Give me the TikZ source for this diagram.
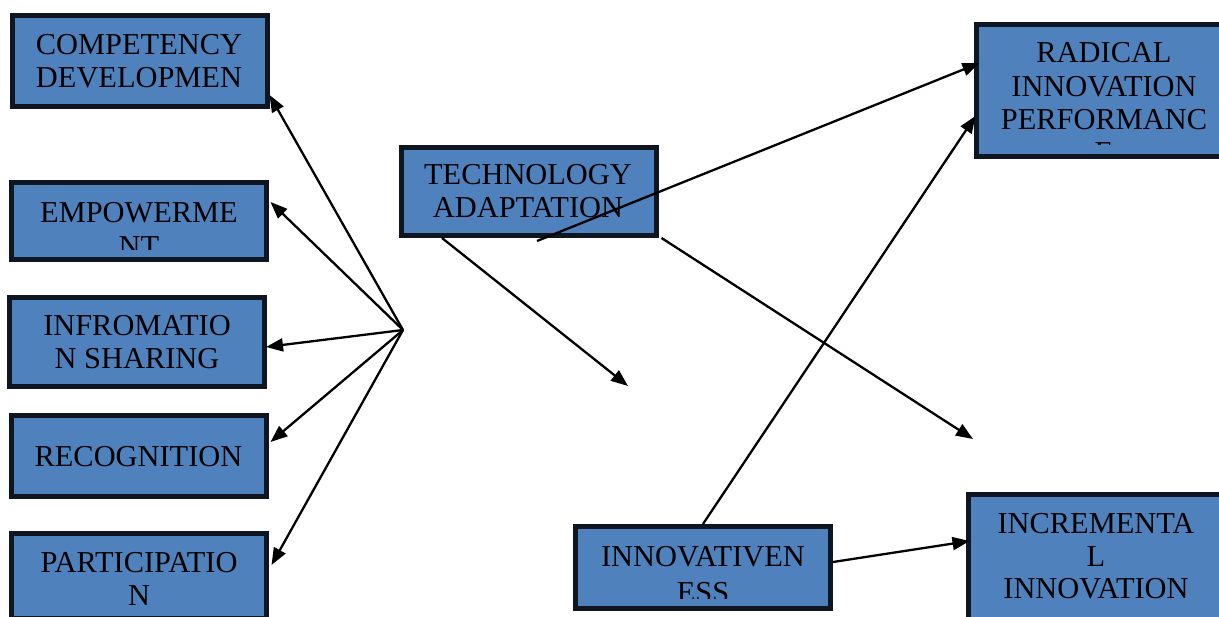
\documentclass[tikz,border=0pt]{standalone}
\usepackage{fontspec}
\setmainfont{Liberation Serif}
\usetikzlibrary{arrows.meta}

\definecolor{boxblue}{RGB}{79,129,189}
\definecolor{boxedge}{RGB}{14,22,34}

\begin{document}
\begin{tikzpicture}[x=1pt,y=-1pt,
  box/.style={draw=boxedge, line width=5pt, fill=boxblue, inner sep=0pt,
              minimum width=255pt},
  label/.style={anchor=base, inner sep=0pt, text=black,
                font=\fontsize{30.4}{33}\selectfont},
  link/.style={draw=black, line width=2.3pt,
               -{Triangle[length=17pt,width=13pt]}}
]
\useasboundingbox (0,0) rectangle (1219,617);
\clip (0,0) rectangle (1219,617);

% left column of factors
\node[box, minimum height=91pt] (comp)   at (139.5,61)  {};
\node[box, minimum height=77pt] (empow)  at (139,221)   {};
\node[box, minimum height=89pt] (info)   at (137,342)   {};
\node[box, minimum height=81pt] (recog)  at (139,456)   {};
\node[box, minimum height=85pt] (partic) at (139,576)   {};

% mediator and outcomes
\node[box, minimum height=88pt]  (tech)    at (529,191.5)  {};
\node[box, minimum height=132pt] (radical) at (1104,90.5)  {};
\node[box, minimum height=82pt]  (innov)   at (703,567.5)  {};
\node[box, minimum height=142pt] (incr)    at (1096,566)   {};

% box texts (some are cut off by their boxes)
\node[label] (compT) at (139,55)
  {\begin{tabular}[t]{@{}c@{}}COMPETENCY\\DEVELOPMEN\end{tabular}};
\begin{scope}
  \clip (empow.north west) rectangle ([yshift=12pt]empow.south east);
  \node[label] (empowT) at (139,223)
    {\begin{tabular}[t]{@{}c@{}}EMPOWERME\\[1pt]NT\end{tabular}};
\end{scope}
\node[label] (infoT) at (137,336)
  {\begin{tabular}[t]{@{}c@{}}INFROMATIO\\N SHARING\end{tabular}};
\node[label] (recogT) at (138.5,467) {RECOGNITION};
\node[label] (particT) at (139,572)
  {\begin{tabular}[t]{@{}c@{}}PARTICIPATIO\\N\end{tabular}};
\node[label] (techT) at (528,185)
  {\begin{tabular}[t]{@{}c@{}}TECHNOLOGY\\ADAPTATION\end{tabular}};
\begin{scope}
  \clip (radical.north west) rectangle ([yshift=14pt]radical.south east);
  \node[label] (radicalT) at (1104,63)
    {\begin{tabular}[t]{@{}c@{}}RADICAL\\[1pt]INNOVATION\\PERFORMANC\\E\end{tabular}};
\end{scope}
\begin{scope}
  \clip (innov.north west) rectangle ([yshift=12.5pt]innov.south east);
  \node[label] (innovT) at (703,566)
    {\begin{tabular}[t]{@{}c@{}}INNOVATIVEN\\[3pt]ESS\end{tabular}};
\end{scope}
\node[label] (incrT) at (1096,533)
  {\begin{tabular}[t]{@{}c@{}}INCREMENTA\\L\\INNOVATION\end{tabular}};

% connectors
\coordinate (hub) at (403,330);
\coordinate (techEnd) at (628,386);
\coordinate (incrEnd) at (973,439);

\draw[link] (hub) -- ([yshift=-34pt]comp.east);
\draw[link] (hub) -- ([xshift=1.5pt,yshift=19pt]empow.east);
\draw[link] (hub) -- ([xshift=-1pt,yshift=-5pt]info.east);
\draw[link] (hub) -- ([xshift=1.5pt,yshift=14pt]recog.east);
\draw[link] (hub) -- ([xshift=2.5pt,yshift=11pt]partic.east);

\draw[link] ([xshift=-87pt]tech.south) -- (techEnd);
\draw[link] ([xshift=8pt,yshift=-3pt]tech.south) -- ([xshift=5.5pt,yshift=27.5pt]radical.west);
\draw[link] ([xshift=2.5pt]tech.south east) -- (incrEnd);

\draw[link] (innov.north) -- ([xshift=1.5pt,yshift=-25.5pt]radical.west);
\draw[link] ([yshift=5.5pt]innov.east) -- ([xshift=3.5pt,yshift=25pt]incr.west);
\end{tikzpicture}
\end{document}
